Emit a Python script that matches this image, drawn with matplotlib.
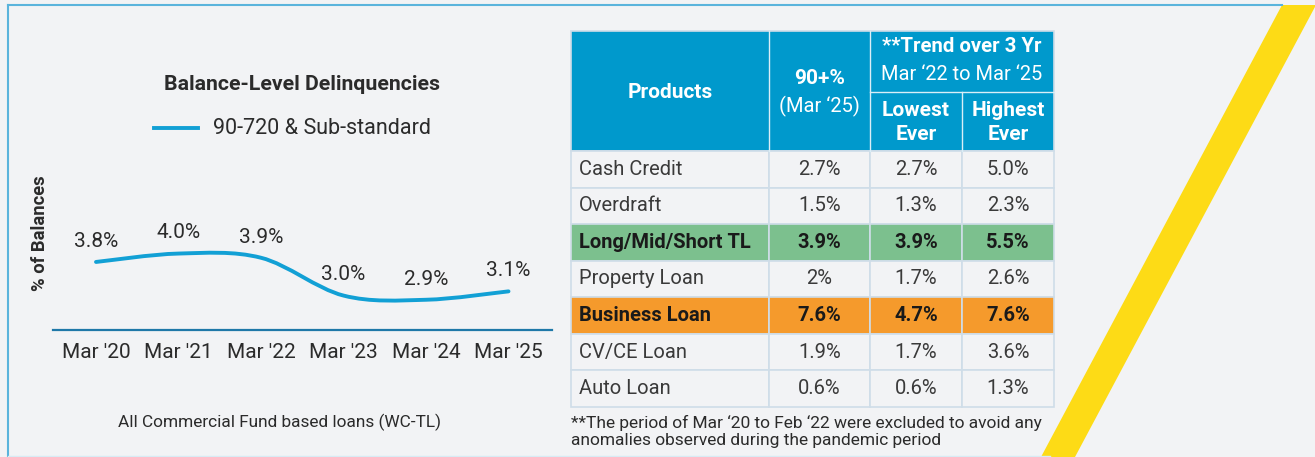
import numpy as np
import matplotlib
matplotlib.use("Agg")
import matplotlib.pyplot as plt
from matplotlib.patches import Rectangle, Polygon, PathPatch
from matplotlib.path import Path

plt.rcParams['font.family'] = ['Roboto', 'DejaVu Sans']

# %% data
periods = ["Mar '20", "Mar '21", "Mar '22", "Mar '23", "Mar '24", "Mar '25"]
delinq = [3.8, 4.0, 3.9, 3.0, 2.9, 3.1]
series_name = "90-720 & Sub-standard"

products = ["Cash Credit", "Overdraft", "Long/Mid/Short TL", "Property Loan",
            "Business Loan", "CV/CE Loan", "Auto Loan"]
pct_mar25 = ["2.7%", "1.5%", "3.9%", "2%", "7.6%", "1.9%", "0.6%"]
lowest_ever = ["2.7%", "1.3%", "3.9%", "1.7%", "4.7%", "1.7%", "0.6%"]
highest_ever = ["5.0%", "2.3%", "5.5%", "2.6%", "7.6%", "3.6%", "1.3%"]
highlight = {2: "#7cc08e", 4: "#f59a2c"}

# %% colours
BG = "#f2f3f5"
BLUE = "#0099cc"
LINE = "#12a0d5"
GRID = "#cfdde8"
TXT = "#2b2b2b"
BODY = "#3a3a3a"

W, H = 1315, 457
fig = plt.figure(figsize=(W / 100, H / 100), dpi=100, facecolor=BG)

# canvas in pixel coords for frame + table
bg = fig.add_axes([0, 0, 1, 1])
bg.set_xlim(0, W)
bg.set_ylim(H, 0)
bg.axis("off")
bg.set_facecolor(BG)

# frame lines and yellow stripe
bg.plot([8, 1282], [5, 5], color="#5ab4dc", lw=1.5)
bg.plot([8, 8], [5, 457], color="#5ab4dc", lw=1.5)
bg.plot([8, 1050], [455.5, 455.5], color="#d8ebf4", lw=1)
bg.add_patch(Polygon([(1282, 5), (1316, 5), (1075, 457), (1041, 457)],
                     closed=True, color="#fddb16", lw=0))

# %% table
col_x = [571, 769, 870, 962, 1054]
top, hsplit, hbot = 31, 92, 151
row_h = (407 - hbot) / len(products)

bg.add_patch(Rectangle((col_x[0], top), col_x[-1] - col_x[0], hbot - top,
                       facecolor=BLUE, edgecolor=GRID, lw=1.2))
for x in col_x[1:-1]:
    y0 = top if x != col_x[3] else hsplit
    bg.plot([x, x], [y0, hbot], color="#d9eef7", lw=1)
bg.plot([col_x[2], col_x[4]], [hsplit, hsplit], color="#d9eef7", lw=1)

hc = "white"
bg.text((col_x[0] + col_x[1]) / 2, 92, "Products", color=hc, fontsize=15,
        fontweight="bold", ha="center", va="center")
bg.text((col_x[1] + col_x[2]) / 2, 79, "90+%", color=hc, fontsize=15,
        fontweight="bold", ha="center", va="center")
bg.text((col_x[1] + col_x[2]) / 2, 106, "(Mar \u201825)", color=hc, fontsize=14.5,
        ha="center", va="center")
bg.text((col_x[2] + col_x[4]) / 2, 47, "**Trend over 3 Yr", color=hc, fontsize=14.7,
        fontweight="bold", ha="center", va="center")
bg.text((col_x[2] + col_x[4]) / 2, 74, "Mar \u201822 to Mar \u201825", color=hc,
        fontsize=14.4, ha="center", va="center")
bg.text((col_x[2] + col_x[3]) / 2, 122.5, "Lowest\nEver", color=hc, fontsize=15,
        fontweight="bold", ha="center", va="center", linespacing=1.35)
bg.text((col_x[3] + col_x[4]) / 2, 122.5, "Highest\nEver", color=hc, fontsize=15,
        fontweight="bold", ha="center", va="center", linespacing=1.35)

for i, name in enumerate(products):
    y = hbot + i * row_h
    fc = highlight.get(i, BG)
    bold = i in highlight
    for c in range(4):
        bg.add_patch(Rectangle((col_x[c], y), col_x[c + 1] - col_x[c], row_h,
                               facecolor=fc, edgecolor=GRID, lw=1.2))
    yc = y + row_h / 2
    kw = dict(color="#1a1a1a" if bold else BODY, fontsize=14.5,
              fontweight="bold" if bold else "normal", va="center")
    bg.text(col_x[0] + 8, yc, name, ha="left", **kw)
    for c, vals in enumerate([pct_mar25, lowest_ever, highest_ever], start=1):
        bg.text((col_x[c] + col_x[c + 1]) / 2, yc, vals[i], ha="center", **kw)

bg.text(col_x[0], 423, "**The period of Mar \u201820 to Feb \u201822 were excluded to avoid any",
        fontsize=12.5, color=TXT, va="center")
bg.text(col_x[0], 441, "anomalies observed during the pandemic period",
        fontsize=12.5, color=TXT, va="center")

# %% line chart
ax_l, ax_r, ax_b, ax_t = 53, 552, 330, 200
ax = fig.add_axes([ax_l / W, (H - ax_b) / H, (ax_r - ax_l) / W, (ax_b - ax_t) / H])
ax.patch.set_alpha(0)
x = np.arange(len(periods))
unit = (508.5 - 96) / 5
ax.set_xlim(-(96 - ax_l) / unit, 5 + (ax_r - 508.5) / unit)
ax.set_ylim(2.18, 2.18 + (ax_b - ax_t) / 42)

# smooth line through the points (Catmull-Rom as cubic bezier)
pts = np.column_stack([x, delinq])
verts = [pts[0]]
codes = [Path.MOVETO]
for k in range(len(pts) - 1):
    p0 = pts[max(k - 1, 0)]
    p1, p2 = pts[k], pts[k + 1]
    p3 = pts[min(k + 2, len(pts) - 1)]
    verts += [p1 + (p2 - p0) / 6, p2 - (p3 - p1) / 6, p2]
    codes += [Path.CURVE4] * 3
ax.add_patch(PathPatch(Path(verts, codes), facecolor="none", edgecolor=LINE,
                       lw=2.8, capstyle="round"))

for xi, v in zip(x, delinq):
    ax.annotate(f"{v:.1f}%", (xi, v), xytext=(0, 8), textcoords="offset points",
                ha="center", va="bottom", fontsize=15, color=TXT)

ax.set_xticks(x)
ax.set_xticklabels(periods, fontsize=15, color=TXT)
ax.tick_params(axis="x", length=0, pad=9)
ax.set_yticks([])
for s in ["top", "right", "left"]:
    ax.spines[s].set_visible(False)
ax.spines["bottom"].set_color("#1f78a8")
ax.spines["bottom"].set_linewidth(1.6)

# titles / legend / labels
bg.text(302, 84, "Balance-Level Delinquencies", fontsize=15.3, fontweight="bold",
        color=TXT, ha="center", va="center")
bg.plot([154, 198], [128, 128], color=LINE, lw=2.8)
bg.text(213, 128, series_name, fontsize=15.5, color=TXT, ha="left", va="center")
bg.text(40, 233, "% of Balances", fontsize=13.2, fontweight="bold", color=TXT,
        rotation=90, ha="center", va="center")
bg.text(280, 422, "All Commercial Fund based loans (WC-TL)", fontsize=12.4,
        color=TXT, ha="center", va="center")

fig.savefig("out.png", dpi=100, facecolor=BG)
